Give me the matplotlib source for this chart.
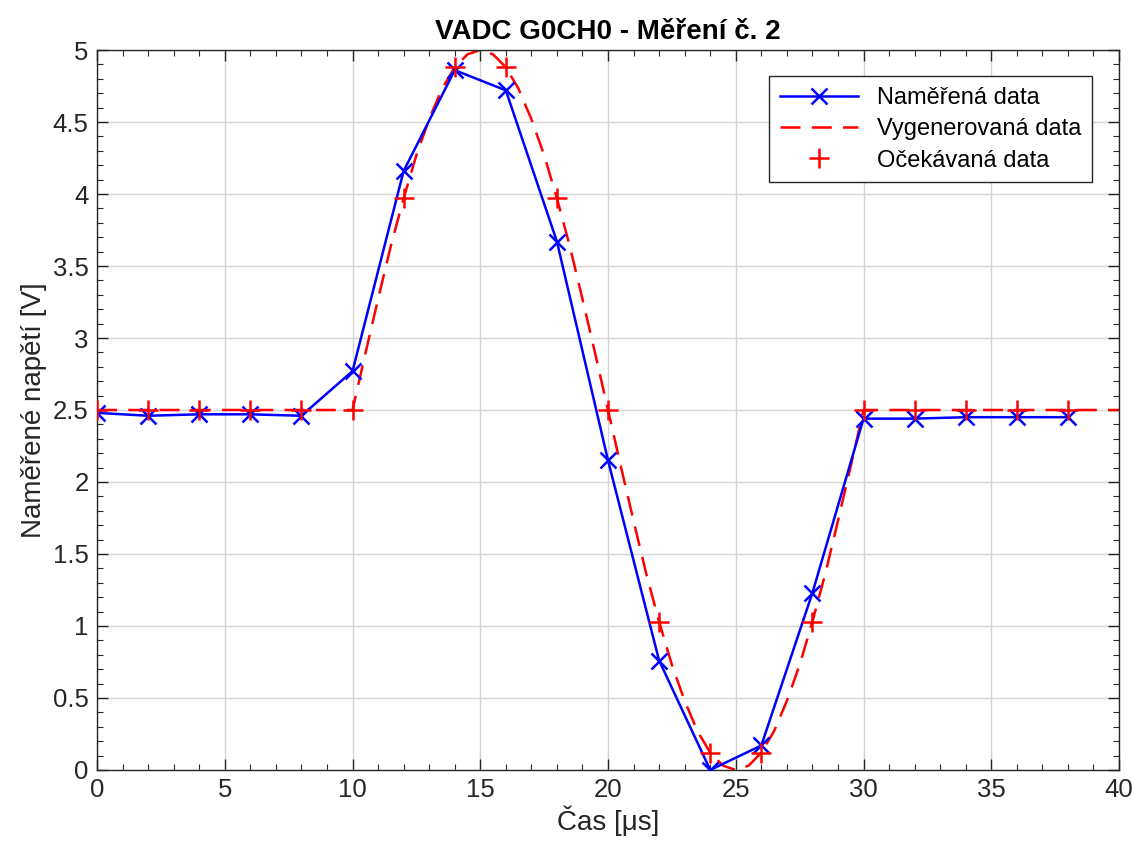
import numpy as np
import matplotlib.pyplot as plt
from matplotlib.ticker import MultipleLocator

plt.rcParams['font.family'] = ['Liberation Sans', 'DejaVu Sans']

# measured samples (every 2 us)
t_meas = [0, 2, 4, 6, 8, 10, 12, 14, 16, 18, 20, 22, 24, 26, 28, 30, 32, 34, 36, 38]
u_meas = [2.48, 2.46, 2.47, 2.47, 2.46, 2.77, 4.16, 4.86, 4.72, 3.67, 2.15, 0.76,
          0.00, 0.17, 1.23, 2.44, 2.44, 2.45, 2.45, 2.45]

# expected samples
t_exp = t_meas
u_exp = [2.5, 2.5, 2.5, 2.5, 2.5, 2.5, 3.97, 4.88, 4.88, 3.97, 2.5, 1.03,
         0.12, 0.12, 1.03, 2.5, 2.5, 2.5, 2.5, 2.5]

# generated waveform (dashed)
t_gen = [0, 10, 10.5, 11, 11.5, 12, 12.5, 13, 13.5, 14, 14.5, 15, 15.5, 16, 16.5, 17,
         17.5, 18, 18.5, 19, 19.5, 20, 20.5, 21, 21.5, 22, 22.5, 23, 23.5, 24, 24.5,
         25, 25.5, 26, 26.5, 27, 27.5, 28, 28.5, 29, 29.5, 30, 40]
u_gen = [2.5, 2.5, 2.89, 3.27, 3.64, 3.97, 4.27, 4.52, 4.73, 4.88, 4.97, 5.0, 4.97,
         4.88, 4.73, 4.52, 4.27, 3.97, 3.64, 3.27, 2.89, 2.5, 2.11, 1.73, 1.36, 1.03,
         0.73, 0.48, 0.27, 0.12, 0.03, 0.0, 0.03, 0.12, 0.27, 0.48, 0.73, 1.03, 1.36,
         1.73, 2.11, 2.5, 2.5]

fig = plt.figure(figsize=(11.47, 8.58), dpi=100)
ax = fig.add_axes([0.0846, 0.1026, 0.891, 0.8391])

ax.plot(t_meas, u_meas, color='blue', marker='x', markersize=12, markeredgewidth=1.8,
        linewidth=1.8, label='Naměřená data', zorder=3)
ax.plot(t_gen, u_gen, color='red', linestyle=(0, (8, 4.5)), linewidth=1.8,
        label='Vygenerovaná data', zorder=2)
ax.plot(t_exp, u_exp, color='red', marker='+', markersize=14, markeredgewidth=1.8,
        linestyle='none', label='Očekávaná data', zorder=4)

ax.set_xlim(0, 40)
ax.set_ylim(0, 5)
ax.xaxis.set_major_locator(MultipleLocator(5))
ax.xaxis.set_minor_locator(MultipleLocator(1))
ax.yaxis.set_minor_locator(MultipleLocator(0.1))
ax.set_yticks(np.arange(0, 5.01, 0.5))
ax.set_yticklabels(['0', '0.5', '1', '1.5', '2', '2.5', '3', '3.5', '4', '4.5', '5'])

ax.grid(True, which='major', color='#d4d4d4', linewidth=1.0)
ax.set_axisbelow(True)
ax.tick_params(which='both', direction='in', top=True, right=True, labelsize=18.5,
               color='#262626', labelcolor='#262626', pad=6)
ax.tick_params(which='major', length=8, width=1.0)
ax.tick_params(which='minor', length=4, width=0.8)
for s in ax.spines.values():
    s.set_color('#262626')
    s.set_linewidth(1.0)

ax.set_xlabel('Čas [μs]', fontsize=20, color='#262626', labelpad=2)
ax.set_ylabel('Naměřené napětí [V]', fontsize=20, color='#262626', labelpad=4)
ax.set_title('VADC G0CH0 - Měření č. 2', fontsize=20, fontweight='bold', pad=8)

leg = ax.legend(loc='upper right', bbox_to_anchor=(0.985, 0.98), fontsize=17,
                fancybox=False, framealpha=1, edgecolor='#262626', handlelength=3.3,
                borderpad=0.45, labelspacing=0.4)
leg.get_frame().set_linewidth(1.0)

fig.savefig('out.png', dpi=100)
